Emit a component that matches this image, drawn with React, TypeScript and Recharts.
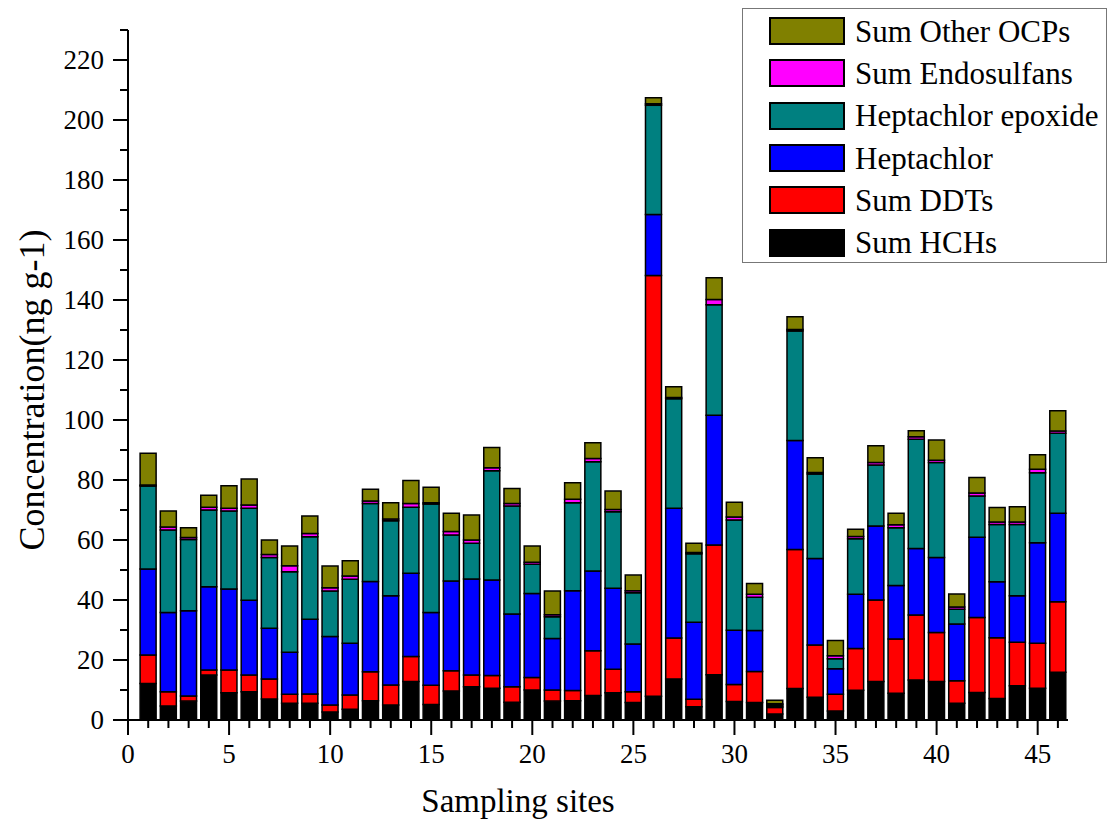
import { BarChart, Bar, XAxis, YAxis, Legend } from 'recharts'

// sampling sites 1..46
const sites = [
  1, 2, 3, 4, 5, 6, 7, 8, 9, 10, 11, 12, 13, 14, 15, 16, 17, 18, 19, 20, 21, 22, 23,
  24, 25, 26, 27, 28, 29, 30, 31, 32, 33, 34, 35, 36, 37, 38, 39, 40, 41, 42, 43, 44,
  45, 46,
]

const hch = [
  12.2, 4.7, 6.3, 15.0, 9.1, 9.4, 7.0, 5.6, 5.6, 2.7, 3.6, 6.4, 5.0, 12.8, 5.2, 9.7,
  11.1, 10.6, 5.9, 10.0, 6.3, 6.4, 8.2, 9.1, 5.8, 7.9, 13.7, 4.4, 15.1, 6.2, 5.8, 2.0,
  10.5, 7.6, 3.0, 9.9, 12.8, 8.9, 13.3, 12.8, 5.6, 9.2, 7.2, 11.4, 10.6, 15.9,
]
const ddt = [
  9.5, 4.7, 1.7, 1.7, 7.6, 5.6, 6.7, 3.0, 3.1, 2.3, 4.7, 9.7, 6.7, 8.4, 6.4, 6.7, 3.9,
  4.2, 5.2, 4.2, 3.7, 3.4, 14.9, 7.8, 3.6, 140.3, 13.6, 2.5, 43.2, 5.6, 10.4, 2.2, 46.3,
  17.4, 5.6, 13.9, 27.2, 18.1, 21.7, 16.4, 7.5, 25.0, 20.2, 14.5, 15.0, 23.5,
]
const heptachlor = [
  28.6, 26.4, 28.4, 27.7, 27.0, 24.9, 16.9, 14.0, 24.9, 22.8, 17.3, 30.1, 29.7, 27.7,
  24.2, 29.9, 32.0, 31.9, 24.2, 28.0, 17.2, 33.3, 26.6, 27.0, 15.9, 20.3, 43.3, 25.7,
  43.3, 18.1, 13.6, 0.4, 36.4, 28.8, 8.5, 18.1, 24.7, 17.8, 22.2, 25.0, 18.9, 26.7,
  18.7, 15.5, 33.5, 29.5,
]
const hepEpoxide = [
  27.7, 27.5, 23.8, 25.6, 26.0, 30.7, 23.6, 26.8, 27.5, 15.2, 21.3, 26.0, 25.0, 22.0,
  36.2, 15.4, 11.9, 36.4, 36.0, 9.7, 7.2, 29.3, 36.4, 25.5, 17.1, 36.4, 36.5, 22.8,
  36.8, 36.8, 11.1, 0.5, 36.5, 28.2, 3.3, 18.5, 20.3, 19.3, 36.4, 31.6, 4.9, 13.8,
  19.1, 23.8, 23.3, 26.7,
]
const endosulfans = [
  0.3, 1.0, 0.6, 0.9, 0.9, 1.1, 1.0, 2.0, 1.1, 1.1, 1.1, 0.8, 0.6, 1.3, 0.4, 1.1, 1.1,
  1.0, 0.9, 0.7, 0.7, 1.2, 1.1, 0.8, 0.7, 0.5, 0.4, 0.4, 1.8, 1.0, 1.0, 0.3, 0.5, 0.5,
  1.0, 0.8, 0.8, 1.0, 0.8, 0.8, 0.8, 1.0, 0.8, 0.8, 1.2, 0.7,
]
const otherOcps = [
  10.6, 5.4, 3.3, 4.0, 7.5, 8.6, 4.8, 6.6, 5.8, 7.2, 5.1, 3.9, 5.4, 7.6, 5.2, 6.1, 8.3,
  6.7, 5.0, 5.4, 7.9, 5.5, 5.2, 6.1, 5.2, 2.0, 3.6, 3.1, 7.2, 4.9, 3.6, 1.2, 4.2, 4.9,
  5.1, 2.4, 5.6, 3.8, 2.0, 6.7, 4.3, 5.1, 4.8, 5.1, 4.8, 6.8,
]

const xTicks = [0, ...sites]
const yTicks = [0, 10, 20, 30, 40, 50, 60, 70, 80, 90, 100, 110, 120, 130, 140, 150, 160, 170, 180, 190, 200, 210, 220, 230]

// bottom to top stacking order
const series = [
  { key: 'hch', name: 'Sum HCHs', color: '#000000', values: hch },
  { key: 'ddt', name: 'Sum DDTs', color: '#ff0000', values: ddt },
  { key: 'hep', name: 'Heptachlor', color: '#0000ff', values: heptachlor },
  { key: 'hepEp', name: 'Heptachlor epoxide', color: '#008080', values: hepEpoxide },
  { key: 'endo', name: 'Sum Endosulfans', color: '#ff00ff', values: endosulfans },
  { key: 'other', name: 'Sum Other OCPs', color: '#808000', values: otherOcps },
]

const data = sites.map((site, i) => {
  const row: Record<string, number> = { site }
  series.forEach((s) => {
    row[s.key] = s.values[i]
  })
  return row
})

const FONT = '"Liberation Serif", "Times New Roman", Times, serif'

function XTick(props: any) {
  const { x, y, payload } = props
  const major = payload.value % 5 === 0
  return (
    <g>
      <line x1={x} x2={x} y1={y} y2={y + (major ? 15 : 8)} stroke="#000" strokeWidth={2} />
      {major && (
        <text x={x} y={y + 43} textAnchor="middle" fontSize={27} fontFamily={FONT} fill="#000">
          {payload.value}
        </text>
      )}
    </g>
  )
}

function YTick(props: any) {
  const { x, y, payload } = props
  const major = payload.value % 20 === 0 && payload.value <= 220
  return (
    <g>
      <line x1={x} x2={x - (major ? 15 : 8)} y1={y} y2={y} stroke="#000" strokeWidth={2} />
      {major && (
        <text x={x - 24} y={y + 9} textAnchor="end" fontSize={27} fontFamily={FONT} fill="#000">
          {payload.value}
        </text>
      )}
    </g>
  )
}

function LegendBox() {
  return (
    <div
      style={{
        width: 365,
        height: 255,
        border: '1px solid #777',
        boxSizing: 'border-box',
        background: '#fff',
        paddingTop: 1,
        fontFamily: FONT,
      }}
    >
      {[...series].reverse().map((s) => (
        <div key={s.key} style={{ display: 'flex', alignItems: 'center', height: 42.3 }}>
          <div
            style={{
              marginLeft: 26,
              width: 76,
              height: 28,
              boxSizing: 'border-box',
              border: '2px solid #000',
              background: s.color,
            }}
          />
          <span style={{ marginLeft: 10, fontSize: 31, lineHeight: 1, color: '#000', whiteSpace: 'nowrap' }}>
            {s.name}
          </span>
        </div>
      ))}
    </div>
  )
}

export default function App() {
  return (
    <div style={{ position: 'absolute', left: 0, top: 0, width: 1114, height: 820, background: '#fff' }}>
      <BarChart
        width={1114}
        height={820}
        data={data}
        margin={{ top: 30, right: 46, bottom: 40, left: 58 }}
        barSize={16}
      >
        <XAxis
          type="number"
          dataKey="site"
          domain={[0, 46.5]}
          ticks={xTicks}
          interval={0}
          tick={<XTick />}
          tickLine={false}
          tickSize={0}
          tickMargin={0}
          height={60}
          axisLine={{ stroke: '#000', strokeWidth: 2 }}
          label={() => (
            <text x={518} y={812} textAnchor="middle" fontSize={33} fontFamily={FONT} fill="#000">
              Sampling sites
            </text>
          )}
        />
        <YAxis
          type="number"
          domain={[0, 230]}
          ticks={yTicks}
          interval={0}
          tick={<YTick />}
          tickLine={false}
          tickSize={0}
          tickMargin={0}
          width={70}
          axisLine={{ stroke: '#000', strokeWidth: 2 }}
          label={() => (
            <text
              x={32}
              y={390}
              transform="rotate(-90 32 390)"
              textAnchor="middle"
              dominantBaseline="central"
              fontSize={36}
              fontFamily={FONT}
              fill="#000"
            >
              Concentration(ng g-1)
            </text>
          )}
        />
        <Legend
          layout="horizontal"
          verticalAlign="middle"
          align="center"
          wrapperStyle={{ left: 742, top: 8, width: 365, height: 255 }}
          content={() => <LegendBox />}
        />
        {series.map((s) => (
          <Bar
            key={s.key}
            dataKey={s.key}
            name={s.name}
            stackId="ocp"
            fill={s.color}
            stroke="#000"
            strokeWidth={1.5}
            isAnimationActive={false}
          />
        ))}
      </BarChart>
    </div>
  )
}
